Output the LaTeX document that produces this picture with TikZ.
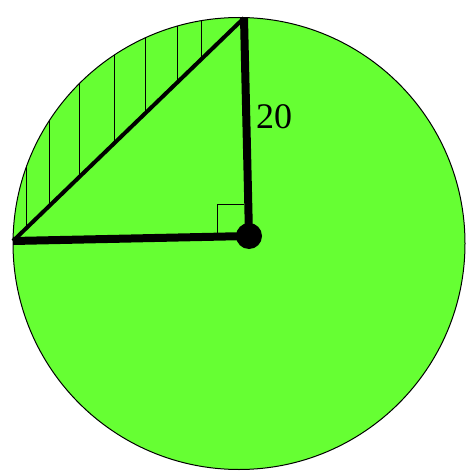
\documentclass[tikz,border=0pt]{standalone}
\usepackage{fontspec}
\setmainfont{Liberation Serif}
\definecolor{lgreen}{RGB}{102,255,51}
\begin{document}
\begin{tikzpicture}[x=1pt,y=-1pt,
  thickline/.style={line width=8pt},
  hyp/.style={line width=4pt},
  hatch/.style={line width=1pt}]
\useasboundingbox (0,0) rectangle (470,473);
\coordinate (O) at (239,243.5);
\fill[lgreen] (O) circle (226);
\draw[line width=1pt] (O) circle (226);
\coordinate (C) at (249,236);
\coordinate (T) at (244,18);
\coordinate (L) at (13,241);
% hatching
\begin{scope}
\clip (O) circle (226);
\foreach \x in {26,49,79,114,145,177,201}{
  \draw[hatch] (\x,0) -- ({\x},{241-(\x-13)*0.9654});
}
\end{scope}
\draw[line width=1pt] (217,233) -- (217,204) -- (244,204);
\draw[hyp] (L) -- (T);
\draw[thickline] (L) -- (C);
\draw[thickline] (T) -- (C);
\fill (C) circle (13);
\node[font=\fontsize{36}{40}\selectfont, anchor=west, inner sep=0pt] (lab) at (256,117) {20};
\end{tikzpicture}
\end{document}
